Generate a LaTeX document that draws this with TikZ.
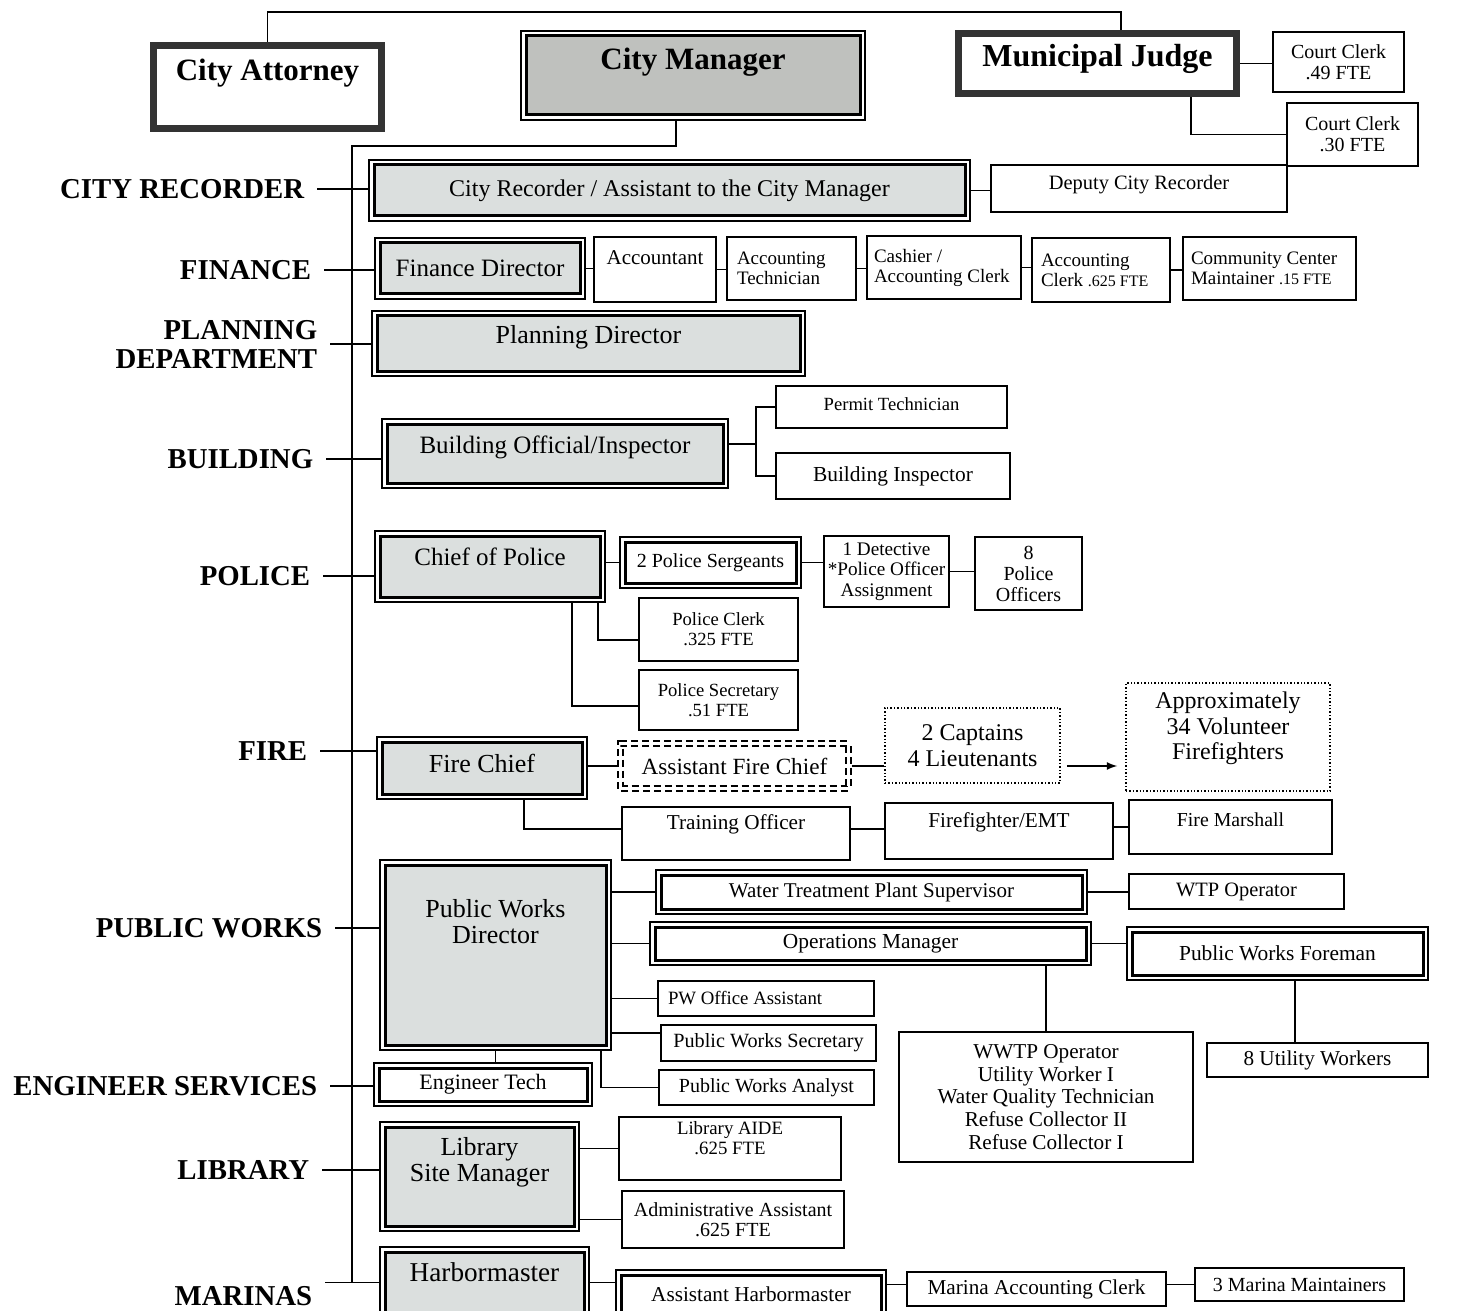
\documentclass[tikz,border=0pt]{standalone}
\usepackage{fontspec}
\setmainfont{Liberation Serif}
\usetikzlibrary{arrows, positioning}

\definecolor{deptgray}{RGB}{219,223,222}
\definecolor{mgrgray}{RGB}{191,193,190}
\newcommand{\fsz}[2]{\fontsize{#1}{#2}\selectfont}
\newcommand{\stk}[1]{\begin{tabular}[b]{@{}c@{}}#1\end{tabular}}

\begin{document}
\begin{tikzpicture}[x=0.5pt, y=-0.5pt, line width=0.8pt,
    sz/.style 2 args={minimum width=#1*0.5pt, minimum height=#2*0.5pt},
    lift/.style={text depth=#1pt},
    lbl/.style={anchor=east, align=right, inner xsep=6pt, inner ysep=0pt, font=\bfseries\fsz{14.4}{14.5}},
    head/.style={draw=black!80, line width=3.5pt, fill=white, inner sep=0pt, font=\bfseries\fsz{15.5}{17}},
    dept/.style={draw, line width=1.5pt, fill=deptgray, outer sep=2.5pt, inner sep=0pt, font=\fsz{13}{13}},
    duo/.style={dept, fill=white, font=\fsz{10.5}{12}},
    staff/.style={draw, line width=0.7pt, fill=white, inner sep=0pt, align=center, font=\fsz{10}{10.5}},
    lstaff/.style={staff, align=flush left, font=\fsz{9.5}{10}},
    dotbox/.style={staff, densely dotted, line width=0.8pt, font=\fsz{12}{12.7}},
    dashbox/.style={staff, dash pattern=on 3.5pt off 2pt, double, double distance=1.6pt, line width=0.9pt, outer sep=1.7pt, font=\fsz{11.6}{12}},
    outframe/.style={line width=0.7pt}
  ]
  \useasboundingbox (0,0) rectangle (1465,1310);
  \clip (0,0) rectangle (1465,1310);
  \fill[white] (0,0) rectangle (1465,1310);

  % Top
  \node[head, sz={228}{83}, lift=17.4]  (att)   at (267.5,87)   {City Attorney};
  \node[dept, fill=mgrgray, sz={334}{79}, lift=16.4, font=\bfseries\fsz{15.5}{17}] (cm) at (693,75.5) {City Manager};
  \node[head, sz={278}{60}, lift=8.5, font=\bfseries\fsz{16}{17}] (judge) at (1097.5,63.5) {Municipal Judge};
  \node[staff, sz={131}{60}]  (cc1) at (1338.5,62)   {Court Clerk\\.49 FTE};
  \node[staff, sz={131}{63}]  (cc2) at (1352.5,134.5) {Court Clerk\\.30 FTE};

  % Department labels
  \node[lbl] (lrec)  at (317,189)  {CITY RECORDER};
  \node[lbl] (lfin)  at (324,270)  {FINANCE};
  \node[lbl] (lplan) at (330,344)  {PLANNING\\DEPARTMENT};
  \node[lbl] (lbld)  at (326,459)  {BUILDING};
  \node[lbl] (lpol)  at (323,576)  {POLICE};
  \node[lbl] (lfire) at (320,751)  {FIRE};
  \node[lbl] (lpw)   at (335,928)  {PUBLIC WORKS};
  \node[lbl] (leng)  at (330,1086) {ENGINEER SERVICES};
  \node[lbl] (llib)  at (322,1170) {LIBRARY};
  \node[lbl] (lmar)  at (325,1296) {MARINAS};

  % Recorder, finance, planning, building
  \node[dept, sz={591}{51}, font=\fsz{12}{13}] (rec) at (669.5,190.5) {City Recorder / Assistant to the City Manager};
  \node[staff, sz={296}{47}, lift=6.2, font=\fsz{10.2}{11}] (dcr) at (1139,188.5) {Deputy City Recorder};
  \node[dept, sz={200}{51}, font=\fsz{12.5}{13}] (fin) at (480,268.5) {Finance Director};
  \node[staff, sz={122}{65}, lift=12, font=\fsz{10.5}{11}] (acct) at (655,269.5) {Accountant};
  \node[lstaff, sz={129}{63}, text width=54.5pt] (atech)  at (791.5,268.5) {Accounting\\Technician};
  \node[lstaff, sz={154}{63}, text width=70pt]   (cash)   at (944,267.5)   {Cashier /\\Accounting Clerk};
  \node[lstaff, sz={138}{64}, text width=60pt]   (aclerk) at (1101,270)    {Accounting\\Clerk {\fsz{8}{10}.625 FTE}};
  \node[lstaff, sz={173}{63}, text width=78.5pt] (ccm)    at (1269.5,268.5) {Community Center\\Maintainer {\fsz{8}{10}.15 FTE}};
  \node[dept, sz={423}{55}, lift=8.8] (plan) at (588.5,343.5) {Planning Director};
  \node[dept, sz={336}{59}, lift=8.7, font=\fsz{12.5}{13}] (bld) at (555,453.5) {Building Official/Inspector};
  \node[staff, sz={231}{42}, lift=3, font=\fsz{9.3}{10}] (ptech) at (891.5,407) {Permit Technician};
  \node[staff, sz={234}{46}, font=\fsz{10.7}{11}] (binsp) at (893,476) {Building Inspector};

  % Police
  \node[dept, sz={220}{61}, lift=10, font=\fsz{12.5}{13}] (pol) at (490,566.5) {Chief of Police};
  \node[duo, sz={171}{41}, font=\fsz{10}{11}] (sgt) at (710.5,562.5) {2 Police Sergeants};
  \node[staff, sz={125}{71}, font=\fsz{9.6}{10.3}] (det) at (886.5,571.5) {1 Detective\\*Police Officer\\Assignment};
  \node[staff, sz={107}{73}, font=\fsz{10}{10.5}] (ofc) at (1028.5,573.5) {8\\Police\\Officers};
  \node[staff, sz={159}{63}, font=\fsz{9.3}{10}] (pclerk) at (718.5,629.5) {Police Clerk\\.325 FTE};
  \node[staff, sz={159}{60}, font=\fsz{9.3}{10}] (psec) at (718.5,700) {Police Secretary\\.51 FTE};

  % Fire
  \node[dept, sz={200}{52}, lift=5] (fire) at (482,768) {Fire Chief};
  \node[dashbox, sz={228}{45}] (afc) at (734.5,766) {Assistant Fire Chief};
  \node[dotbox, sz={175}{75}] (capt) at (972.5,745.5) {2 Captains\\4 Lieutenants};
  \node[dotbox, sz={204}{108}, lift=11.8] (vol) at (1228,737) {\stk{Approximately\\34 Volunteer\\Firefighters}};
  \node[staff, sz={228}{53}, lift=11.3, font=\fsz{10.6}{11}] (train) at (736,833.5) {Training Officer};
  \node[staff, sz={228}{56}, lift=11.3, font=\fsz{10.6}{11}] (ffemt) at (999,831) {Firefighter/EMT};
  \node[staff, sz={203}{54}, lift=7, font=\fsz{9.9}{11}] (fmar) at (1230.5,827) {Fire Marshall};

  % Public works
  \node[dept, sz={221}{180}, lift=33.9] (pwd) at (495.5,955) {\stk{Public Works\\Director}};
  \node[duo, sz={421}{34}] (wtps) at (871.5,892) {Water Treatment Plant Supervisor};
  \node[staff, sz={215}{35}, font=\fsz{10.2}{11}] (wtpo) at (1236.5,891.5) {WTP Operator};
  \node[duo, sz={431}{33}, font=\fsz{10.7}{12}] (ops) at (870.5,943.5) {Operations Manager};
  \node[duo, sz={291}{43}, font=\fsz{10.7}{12}] (pwf) at (1277.5,953.5) {Public Works Foreman};
  \node[staff, sz={294}{130}, font=\fsz{10.6}{11.3}] (wwtp) at (1046,1097) {WWTP Operator\\Utility Worker I\\Water Quality Technician\\Refuse Collector II\\Refuse Collector I};
  \node[staff, sz={221}{34}, font=\fsz{10.6}{11}] (uw) at (1317.5,1060) {8 Utility Workers};
  \node[lstaff, sz={216}{35}, text width=98pt, font=\fsz{9.4}{10}] (pwoa) at (766,998.5) {PW Office Assistant};
  \node[staff, sz={215}{36}, font=\fsz{10.1}{11}] (pwsec) at (768.5,1043) {Public Works Secretary};
  \node[staff, sz={215}{35}, font=\fsz{10}{11}] (pwan) at (766.5,1087.5) {Public Works Analyst};
  \node[duo, sz={208}{33}, font=\fsz{11}{12}] (etech) at (483,1084.5) {Engineer Tech};

  % Library, marinas
  \node[dept, sz={189}{99}, lift=16.9] (lib) at (479.5,1176.5) {\stk{Library\\Site Manager}};
  \node[staff, sz={222}{63}, lift=11, font=\fsz{9.4}{10}] (aide) at (730,1148.5) {\stk{Library AIDE\\.625 FTE}};
  \node[staff, sz={222}{57}, font=\fsz{10}{10}] (admin) at (733,1219.5) {Administrative Assistant\\.625 FTE};
  \node[dept, sz={199}{61}, lift=10, font=\fsz{13.6}{14}] (harb) at (484.5,1282.5) {Harbormaster};
  \node[duo, sz={260}{38}, font=\fsz{10.6}{12}] (aharb) at (751,1294) {Assistant Harbormaster};
  \node[staff, sz={259}{34}, font=\fsz{10.6}{11}] (macc) at (1036.5,1289) {Marina Accounting Clerk};
  \node[staff, sz={209}{33}, font=\fsz{10}{11}] (mm) at (1299.5,1284.5) {3 Marina Maintainers};

  % Outer frames
  \foreach \n in {cm, rec, fin, plan, bld, pol, sgt, fire, pwd, wtps, ops, pwf, etech, lib, harb, aharb}
    \draw[outframe] (\n.north west) rectangle (\n.south east);

  % Paths
  \coordinate (topbar)   at (1121,12);
  \coordinate (cmdrop)   at (676,146);
  \coordinate (spinetop) at (352,146);
  \coordinate (spinebot) at (352,1283);
  \coordinate (jdrop)    at (1191,136);
  \draw (att.north) |- (topbar) -- (topbar |- judge.north);
  \draw (judge.east) -- (judge.east -| cc1.west);
  \draw (jdrop |- judge.south) |- (cc2.west);
  \draw (cmdrop |- cm.south) -- (cmdrop) -- (spinetop) -- (spinebot);

  \foreach \l/\b in {lrec/rec, lfin/fin, lplan/plan, lbld/bld, lpol/pol, lfire/fire, lpw/pwd, leng/etech, llib/lib}
    \draw (\l.east) -- (\l.east -| \b.west);
  \draw (lmar.east |- harb.west) -- (harb.west);

  \draw (rec.east) -- (rec.east -| dcr.west);
  \foreach \a/\b in {fin/acct, acct/atech, atech/cash, cash/aclerk, aclerk/ccm}
    \draw (\a.east) -- (\a.east -| \b.west);

  \coordinate (bfork) at (756,444);
  \draw (bld.east |- bfork) -- (bfork);
  \draw (ptech.west) -| (bfork) |- (binsp.west);

  \coordinate (pcx) at (598,640);
  \coordinate (psx) at (572,706);
  \draw (sgt.west -| pol.east) -- (sgt.west);
  \draw (sgt.east) -- (sgt.east -| det.west);
  \draw (det.east) -- (det.east -| ofc.west);
  \draw (pcx |- pol.south) |- (pcx -| pclerk.west);
  \draw (psx |- pol.south) |- (psx -| psec.west);

  \coordinate (fcx) at (524,829);
  \draw (afc.west -| fire.east) -- (afc.west);
  \draw (afc.east) -- (afc.east -| capt.west);
  \draw[-latex, shorten <=3pt, shorten >=4pt] (afc.east -| capt.east) -- (afc.east -| vol.west);
  \draw (fcx |- fire.south) |- (fcx -| train.west);
  \draw (fcx -| train.east) -- (fcx -| ffemt.west);
  \draw (ffemt.east |- fmar.west) -- (fmar.west);

  \coordinate (psc) at (640,1033);
  \coordinate (pax) at (601,1087);
  \coordinate (uwx) at (1295,1000);
  \foreach \b in {wtps, ops, pwoa}
    \draw (\b.west -| pwd.east) -- (\b.west);
  \draw (psc -| pwd.east) -- (psc -| pwsec.west);
  \draw (pax |- pwd.south) |- (pwan.west);
  \draw (pwd.south) -- (pwd.south |- etech.north);
  \draw (wtps.east) -- (wtps.east -| wtpo.west);
  \draw (ops.east) -- (ops.east -| pwf.west);
  \draw (wwtp.north |- ops.south) -- (wwtp.north);
  \draw (uwx |- pwf.south) -- (uwx |- uw.north);

  \draw (aide.west -| lib.east) -- (aide.west);
  \draw (admin.west -| lib.east) -- (admin.west);
  \draw (harb.east) -- (harb.east -| aharb.west);
  \draw (mm.west -| aharb.east) -- (mm.west -| macc.west);
  \draw (macc.east |- mm.west) -- (mm.west);
\end{tikzpicture}
\end{document}
